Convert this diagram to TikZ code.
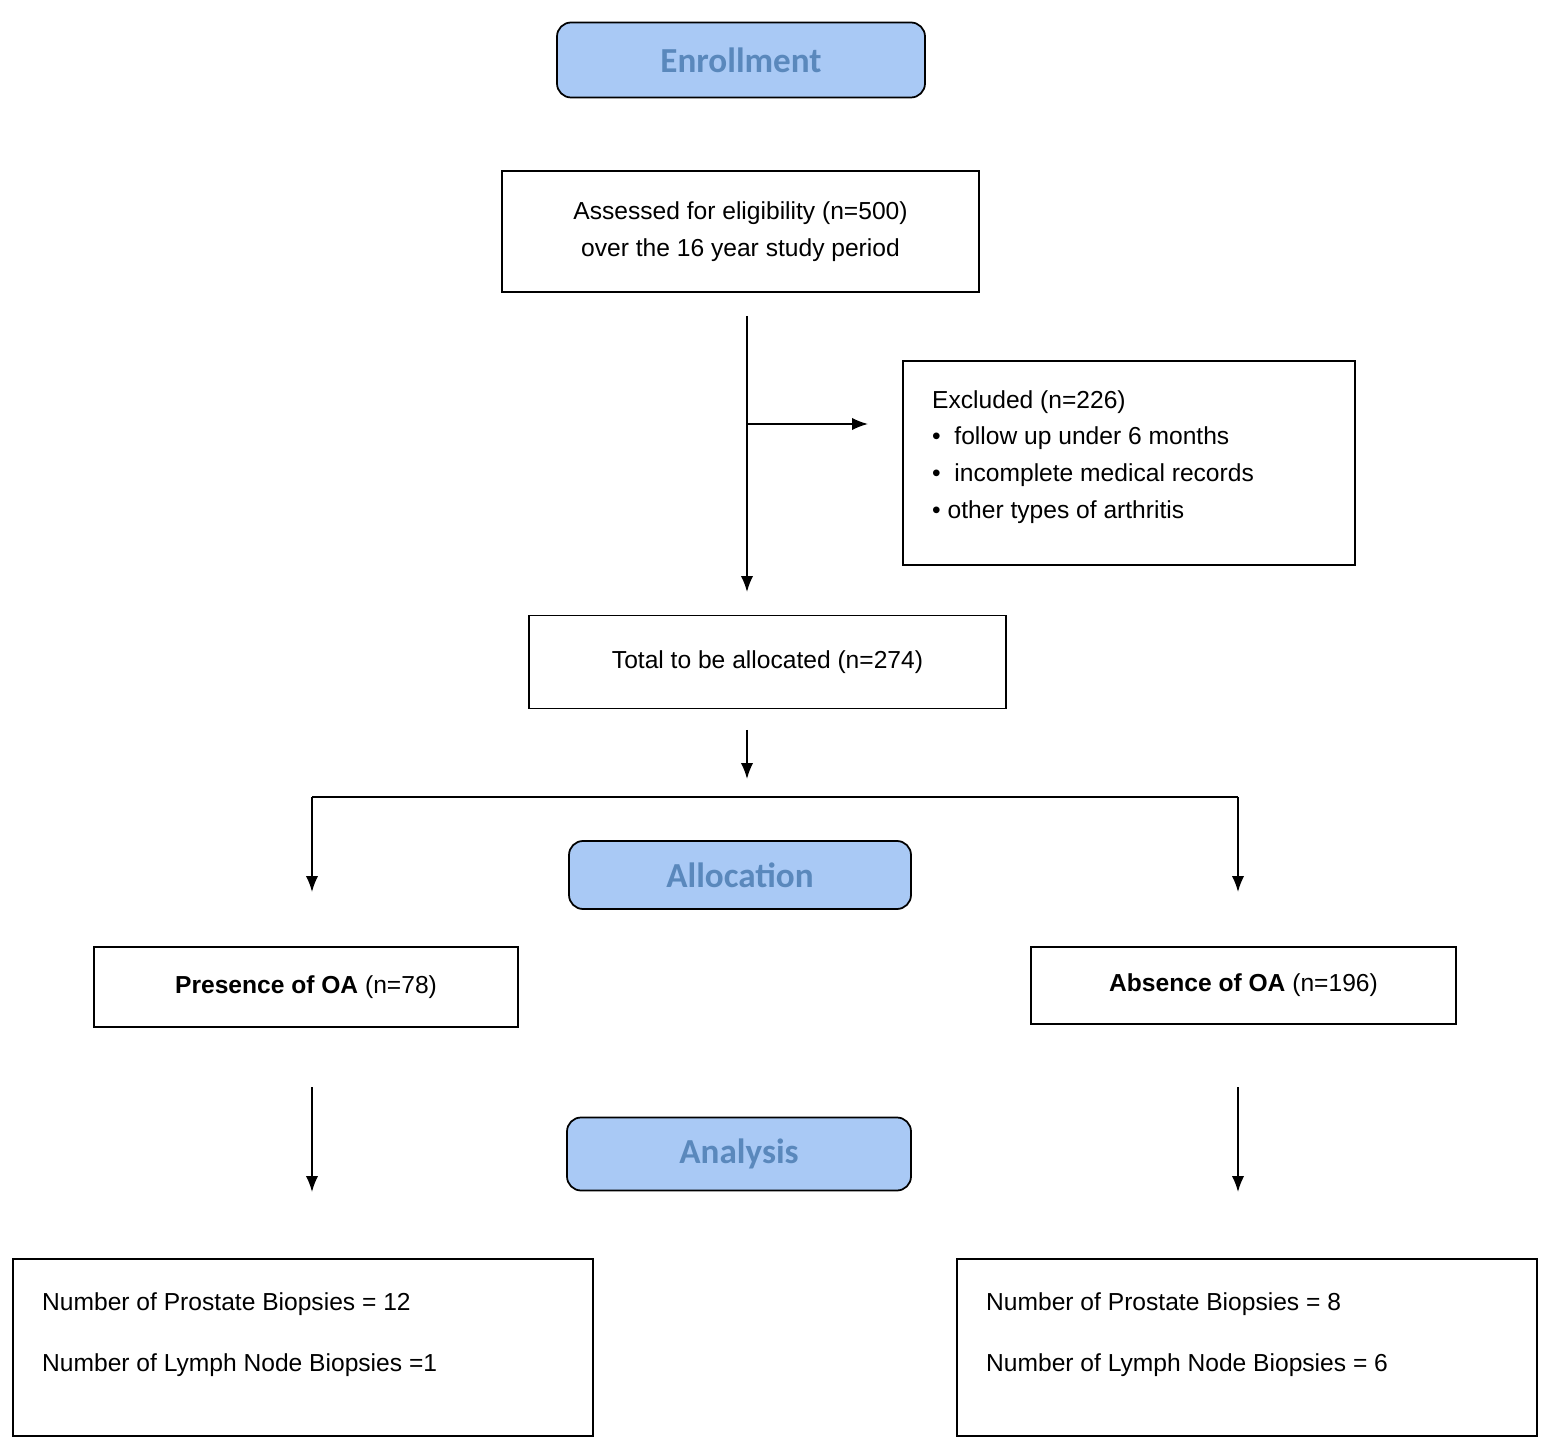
\documentclass[tikz,border=0pt]{standalone}
\usepackage{fontspec}
\setmainfont{Liberation Sans}
\newfontfamily\hdr{Carlito}
\definecolor{hfill}{HTML}{A9C9F5}
\definecolor{htext}{HTML}{5A88BC}
\begin{document}
\begin{tikzpicture}[x=0.02cm,y=-0.02cm,
  box/.style={draw,line width=0.9pt,inner sep=0pt},
  hbox/.style={draw,line width=1pt,rounded corners=8pt,fill=hfill,text=htext,font=\hdr\fontsize{20}{24}\selectfont\bfseries},
  txt/.style={font=\fontsize{14}{17}\selectfont},
  arr/.style={-{Latex[length=9pt,width=7pt]},line width=1pt},
  ln/.style={line width=1pt}]
\useasboundingbox (0,0) rectangle (1549,1452);
\tikzset{>=latex}
\usetikzlibrary{arrows.meta}
\node[hbox,minimum width=368*0.02cm,minimum height=75*0.02cm] (enr) at (741,60) {Enrollment};
\node[box,minimum width=477*0.02cm,minimum height=121*0.02cm,txt,align=center] (ass) at (740.5,231.5) {Assessed for eligibility (n=500)\\[4pt]over the 16 year study period};
\coordinate (a1) at (747,316);
\coordinate (a2) at (747,592);
\coordinate (br) at (747,424);
\coordinate (b2) at (868,424);
\draw[arr] (a1) -- (a2);
\draw[arr] (br) -- (b2);
\node[box,minimum width=452*0.02cm,minimum height=204*0.02cm] (exc) at (1129,463) {};
\node[txt,anchor=north west,align=left] at (926,384) {Excluded (n=226)\\[4pt]
\textbullet\ \ follow up under 6 months\\[4pt]
\textbullet\ \ incomplete medical records\\[4pt]
\textbullet\ other types of arthritis};
\node[box,minimum width=477*0.02cm,minimum height=93*0.02cm,txt] (tot) at (767.5,662) {Total to be allocated (n=274)};
\coordinate (c1) at (747,730);
\coordinate (c2) at (747,779);
\draw[arr] (c1) -- (c2);
\coordinate (hl) at (312,797);
\coordinate (hr) at (1238,797);
\coordinate (dl) at (312,892);
\coordinate (dr) at (1238,892);
\draw[ln] (hl) -- (hr);
\draw[arr] (hl) -- (dl);
\draw[arr] (hr) -- (dr);
\node[hbox,minimum width=342*0.02cm,minimum height=68*0.02cm] (all) at (740,875) {Allocation};
\node[box,minimum width=424*0.02cm,minimum height=80*0.02cm,txt] (pre) at (306,987) {\textbf{Presence of OA} (n=78)};
\node[box,minimum width=425*0.02cm,minimum height=77*0.02cm,txt] (abs) at (1243.5,985.5) {\textbf{Absence of OA} (n=196)};
\coordinate (e1) at (312,1087);
\coordinate (e2) at (312,1192);
\coordinate (f1) at (1238,1087);
\coordinate (f2) at (1238,1192);
\draw[arr] (e1) -- (e2);
\draw[arr] (f1) -- (f2);
\node[hbox,minimum width=344*0.02cm,minimum height=73*0.02cm] (ana) at (739,1154) {Analysis};
\node[box,minimum width=580*0.02cm,minimum height=177*0.02cm] (lb) at (303,1347.5) {};
\node[txt,anchor=north west,align=left] at (36,1286) {Number of Prostate Biopsies = 12\\[18pt]Number of Lymph Node Biopsies =1};
\node[box,minimum width=580*0.02cm,minimum height=177*0.02cm] (rb) at (1247,1347.5) {};
\node[txt,anchor=north west,align=left] at (980,1286) {Number of Prostate Biopsies = 8\\[18pt]Number of Lymph Node Biopsies = 6};
\end{tikzpicture}
\end{document}
